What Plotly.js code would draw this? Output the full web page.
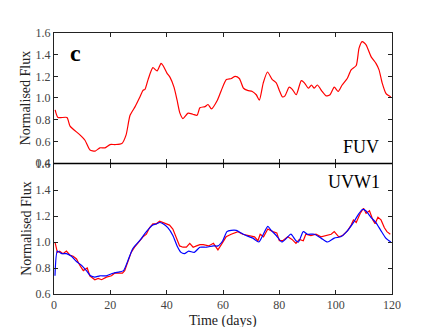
<!DOCTYPE html>
<html><head><meta charset="utf-8">
<script src="https://cdn.plot.ly/plotly-3.0.1.min.js"></script>
<style>html,body{margin:0;padding:0;background:#fff}#chart{width:436px;height:327px}</style>
</head><body><div id="chart"></div>
<script>
// FUV (top panel)
const fuvTime = [0.4,1.4,4.6,5.7,9.2,11,12.8,14.6,16.3,18.1,19.9,21.7,24.1,25.6,27,28.8,30.5,31.6,32.3,33.4,35.1,36.6,38,38.7,40.1,41.2,42.6,43.7,44.7,45.8,47.6,49.3,50.8,51.8,53.6,54.7,55.9,58,59.4,61.2,63,64.3,65.8,67.3,68.7,70.4,71.8,72.9,74.3,75.8,77.5,78.9,80,81.1,82,83.5,84.6,86,87.8,88.9,90.3,91.4,92.4,93.5,95.2,96.6,98,99.5,100.9,102.3,104.1,105.5,107.3,108.3,109.4,110.8,112.6,114.3,115.4,116.5,117.9,119.6];
const fuvFlux = [0.89,0.82,0.82,0.74,0.66,0.61,0.52,0.51,0.54,0.54,0.57,0.57,0.58,0.66,0.84,0.92,1.01,1.07,1.08,1.17,1.28,1.25,1.32,1.30,1.23,1.19,1.10,0.98,0.86,0.81,0.86,0.85,0.84,0.91,0.92,0.94,0.90,0.98,1.07,1.17,1.18,1.20,1.18,1.09,1.07,1.06,1.03,0.98,1.14,1.24,1.17,1.14,1.07,1.01,1.02,1.10,1.08,1.03,1.16,1.14,1.09,1.12,1.09,1.12,1.06,1.02,1.03,1.10,1.06,1.12,1.18,1.26,1.30,1.46,1.52,1.49,1.38,1.32,1.26,1.14,1.04,1.01];
// UVW1 observed (red)
const uvTime = [0.35,1.2,2,3.2,4.4,5.6,6.8,8,9.2,10.4,11.8,12.7,14.5,15.7,16.9,18.6,20.4,21.5,22.7,24.3,25.1,26.3,27.4,28.6,30.4,31.6,32.8,33.9,35.1,36.3,37.5,38.7,39.8,41,42.2,43.4,44.6,45.8,47,48.2,49.4,50.6,51.8,53,54.9,56.6,58.2,59.4,61.1,62.9,65.3,67,69.4,71.2,72.4,73.2,74.4,75.9,77.7,79.1,80,81.2,83,84.5,85.9,87.1,88.5,89.4,91.2,93,94.8,96.6,98.4,99.5,101.1,102.5,104.3,105.5,106.3,107.3,108.7,109.9,110.8,112,113.2,114,115,116.1,117.3,118.2,119.4];
const uvFlux = [1.00,0.92,0.93,0.91,0.93,0.90,0.89,0.87,0.82,0.78,0.80,0.74,0.71,0.72,0.71,0.73,0.74,0.76,0.76,0.76,0.78,0.86,0.92,0.96,1.01,1.04,1.06,1.11,1.14,1.14,1.16,1.15,1.14,1.13,1.10,1.04,0.97,0.96,0.96,0.99,0.96,0.97,0.98,0.98,0.97,0.99,0.94,0.98,1.04,1.06,1.08,1.06,1.05,1.04,1.01,1.06,1.04,1.10,1.08,1.07,1.01,1.01,1.04,1.02,0.99,1.02,1.01,1.06,1.05,1.06,1.04,1.05,1.06,1.08,1.04,1.05,1.09,1.13,1.17,1.15,1.22,1.26,1.22,1.24,1.17,1.14,1.19,1.17,1.11,1.08,1.06];
// UVW1 model (blue)
const modTime = [0.35,1.2,2.8,4.4,6.2,8,9.8,11.5,13,14.5,16.3,18.6,21,23.3,24.7,26.3,28,30.4,32.8,35.1,36.5,37.5,38.7,40.4,42.2,43.7,45.1,46.3,47.8,49.8,51.8,54.1,56.6,58.2,59.9,61.4,62.9,64.7,66.4,68.2,70.6,72.7,74.1,75.9,77.1,78.9,80.9,82.6,84.1,85.9,86.8,88.5,90,92.4,94.8,97.1,99.5,101.8,103.5,106,108.3,109.5,110.7,112.5,114.3,116,117.8,119.6];
const modFlux = [0.74,0.93,0.91,0.91,0.89,0.85,0.82,0.78,0.74,0.73,0.74,0.74,0.76,0.77,0.78,0.86,0.95,1.01,1.08,1.13,1.14,1.15,1.14,1.11,1.05,0.97,0.92,0.91,0.93,0.92,0.96,0.96,0.97,0.97,1.01,1.08,1.09,1.09,1.07,1.05,1.03,1.00,1.05,1.12,1.09,1.05,1.00,1.03,1.06,1.01,1.00,1.08,1.06,1.06,1.03,1.00,1.03,1.04,1.07,1.14,1.22,1.25,1.24,1.19,1.15,1.09,1.03,1.00];

const xTicks = [0,20,40,60,80,100,120];
const topTicks = [0.4,0.6,0.8,1.0,1.2,1.4,1.6];
const botTicks = [0.6,0.8,1.0,1.2,1.4,1.6];

const serif = 'Liberation Serif';
function ax(extra) {
  return Object.assign({showgrid:false, zeroline:false, showline:true, linecolor:'#222', linewidth:1, mirror:'ticks',
    ticks:'inside', ticklen:4, tickcolor:'#222',
    tickfont:{family:serif, size:12, color:'#444'}}, extra);
}
const titleFont = {family:serif, size:14, color:'#222'};

const data = [
  {x:fuvTime, y:fuvFlux, type:'scatter', mode:'lines', line:{color:'#ff0000', width:1.2, shape:'spline', smoothing:0.6}, xaxis:'x', yaxis:'y', hoverinfo:'skip'},
  {x:uvTime, y:uvFlux, type:'scatter', mode:'lines', line:{color:'#ff0000', width:1.2}, xaxis:'x2', yaxis:'y2', hoverinfo:'skip'},
  {x:modTime, y:modFlux, type:'scatter', mode:'lines', line:{color:'#0000ff', width:1.2, shape:'spline', smoothing:0.6}, xaxis:'x2', yaxis:'y2', hoverinfo:'skip'}
];

const layout = {
  width:436, height:327, showlegend:false,
  font:{family:serif, size:12, color:'#333'},
  paper_bgcolor:'#fff', plot_bgcolor:'#fff',
  margin:{l:54, r:44, t:33, b:33},
  xaxis:ax({domain:[0,1], range:[0,120], tickvals:xTicks, showticklabels:false, anchor:'y'}),
  yaxis:ax({domain:[0.502,1], range:[0.4,1.6], tickvals:topTicks, ticktext:topTicks.map(v=>v.toFixed(1)), anchor:'x'}),
  xaxis2:ax({domain:[0,1], range:[0,120], tickvals:xTicks, anchor:'y2'}),
  yaxis2:ax({domain:[0,0.498], range:[0.6,1.6], tickvals:botTicks, ticktext:botTicks.map(v=>v.toFixed(1)), anchor:'x2'}),
  annotations:[
    {text:'Normalised Flux', xref:'paper', yref:'paper', x:-0.082, y:0.751, textangle:-90, showarrow:false, xanchor:'center', yanchor:'middle', font:titleFont},
    {text:'Normalised Flux', xref:'paper', yref:'paper', x:-0.082, y:0.251, textangle:-90, showarrow:false, xanchor:'center', yanchor:'middle', font:titleFont},
    {text:'Time (days)', xref:'paper', yref:'paper', x:0.5, y:-0.102, showarrow:false, xanchor:'center', yanchor:'middle', font:titleFont},
    {text:'<b>c</b>', xref:'x', yref:'y', x:5, y:1.42, showarrow:false, xanchor:'left', yanchor:'middle', font:{family:serif, size:24, color:'#000'}},
    {text:'FUV', xref:'x', yref:'y', x:116, y:0.55, showarrow:false, xanchor:'right', yanchor:'middle', font:{family:serif, size:18, color:'#000'}},
    {text:'UVW1', xref:'x2', yref:'y2', x:116.5, y:1.46, showarrow:false, xanchor:'right', yanchor:'middle', font:{family:serif, size:18, color:'#000'}}
  ],
  shapes:[
    {type:'line', xref:'paper', yref:'paper', x0:0, x1:1, y0:0.5, y1:0.5, line:{color:'#000', width:1.3}}
  ]
};
Plotly.newPlot('chart', data, layout, {staticPlot:true, displayModeBar:false});
</script></body></html>
